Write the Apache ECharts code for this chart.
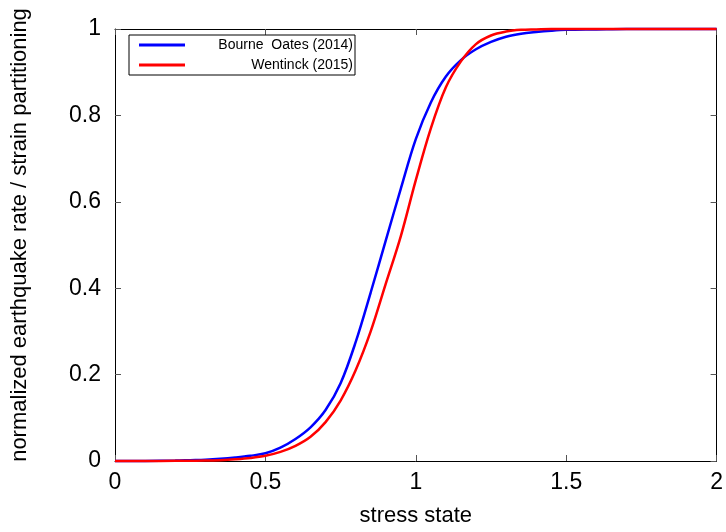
<!DOCTYPE html>
<html>
<head>
<meta charset="utf-8">
<script src="https://cdn.jsdelivr.net/npm/echarts@6/dist/echarts.min.js"></script>
<style>
  html, body { margin: 0; padding: 0; background: #fff; }
  #chart { width: 726px; height: 532px; }
</style>
</head>
<body>
<div id="chart"></div>
<script>
// stress state samples
var stress = [0, 0.1, 0.2, 0.25, 0.3, 0.35, 0.4, 0.45, 0.5, 0.55, 0.6, 0.65, 0.7, 0.75, 0.8, 0.85,
    0.9, 0.95, 1.0, 1.05, 1.1, 1.15, 1.2, 1.25, 1.3, 1.35, 1.4, 1.45, 1.5, 1.6, 1.7, 1.8, 2.0];

// Bourne Oates (2014)
var bourneOates = [0, 0.0002, 0.001, 0.002, 0.003, 0.005, 0.008, 0.012, 0.018, 0.031, 0.051, 0.078, 0.118, 0.18, 0.275, 0.39,
    0.51, 0.63, 0.745, 0.83, 0.89, 0.928, 0.953, 0.97, 0.982, 0.989, 0.993, 0.996, 0.998, 0.999, 1.0, 1.0, 1.0];

// Wentinck (2015)
var wentinck = [0, 0, 0.0005, 0.0008, 0.001, 0.002, 0.004, 0.007, 0.012, 0.021, 0.035, 0.056, 0.09, 0.14, 0.21, 0.30,
    0.41, 0.52, 0.65, 0.77, 0.865, 0.925, 0.965, 0.985, 0.994, 0.998, 0.999, 1.0, 1.0, 1.0, 1.0, 1.0, 1.0];

var xTicks = [0, 0.5, 1, 1.5, 2];
var yTicks = [0, 0.2, 0.4, 0.6, 0.8, 1];

function pairs(ys) {
    return stress.map(function (x, i) {
        return [x, ys[i]];
    });
}

var chart = echarts.init(document.getElementById('chart'));
var font = 'Liberation Sans, Arial, sans-serif';

// box frame + ticks pointing into the plot
var frameAxis = {
    show: true,
    onZero: false,
    lineStyle: {color: '#000', width: 1}
};
var innerTicks = {
    show: true,
    inside: true,
    length: 6,
    lineStyle: {color: '#555', width: 1}
};

var option = {
    animation: false,
    backgroundColor: '#fff',
    grid: {left: 115, right: 7, top: 29, bottom: 70, containLabel: false},
    legend: {
        left: 129,
        top: 35,
        orient: 'vertical',
        itemWidth: 46,
        itemHeight: 3,
        itemGap: 4,
        padding: [2, 2, 2, 10],
        borderColor: '#000',
        borderWidth: 1,
        backgroundColor: '#fff',
        borderRadius: 0,
        data: [
            {name: 'Bourne  Oates (2014)', icon: 'rect'},
            {name: 'Wentinck (2015)', icon: 'rect'}
        ],
        formatter: function (name) {
            return '{t|' + name + '}';
        },
        textStyle: {
            rich: {
                t: {width: 163, height: 16, lineHeight: 16, align: 'right', fontFamily: font, fontSize: 14, color: '#000'}
            }
        }
    },
    xAxis: [{
        type: 'value',
        min: 0,
        max: 2,
        interval: 0.5,
        name: 'stress state',
        nameLocation: 'middle',
        nameGap: 44,
        nameTextStyle: {fontFamily: font, fontSize: 22, color: '#000'},
        axisLine: frameAxis,
        axisTick: innerTicks,
        splitLine: {show: false},
        axisLabel: {
            fontFamily: font, fontSize: 23, color: '#000', margin: 10,
            formatter: function (v) {
                return xTicks.indexOf(v) >= 0 ? String(v) : '';
            }
        }
    }, {
        type: 'value',
        position: 'top',
        min: 0,
        max: 2,
        interval: 0.5,
        axisLine: frameAxis,
        axisTick: innerTicks,
        splitLine: {show: false},
        axisLabel: {show: false}
    }],
    yAxis: [{
        type: 'value',
        min: 0,
        max: 1,
        interval: 0.2,
        name: 'normalized earthquake rate / strain partitioning',
        nameLocation: 'middle',
        nameGap: 84,
        nameTextStyle: {fontFamily: font, fontSize: 22, color: '#000', padding: [0, 0, 0, 20]},
        axisLine: frameAxis,
        axisTick: innerTicks,
        splitLine: {show: false},
        axisLabel: {
            fontFamily: font, fontSize: 23, color: '#000', margin: 14,
            formatter: function (v) {
                var r = Math.round(v * 10) / 10;
                return yTicks.indexOf(r) >= 0 ? String(r) : '';
            }
        }
    }, {
        type: 'value',
        position: 'right',
        min: 0,
        max: 1,
        interval: 0.2,
        axisLine: frameAxis,
        axisTick: innerTicks,
        splitLine: {show: false},
        axisLabel: {show: false}
    }],
    series: [{
        name: 'Bourne  Oates (2014)',
        type: 'line',
        data: pairs(bourneOates),
        smooth: 0.35,
        showSymbol: false,
        clip: false,
        color: '#0000ff',
        lineStyle: {color: '#0000ff', width: 2.5}
    }, {
        name: 'Wentinck (2015)',
        type: 'line',
        data: pairs(wentinck),
        smooth: 0.35,
        showSymbol: false,
        clip: false,
        color: '#ff0000',
        lineStyle: {color: '#ff0000', width: 2.5}
    }]
};

chart.setOption(option);
</script>
</body>
</html>
